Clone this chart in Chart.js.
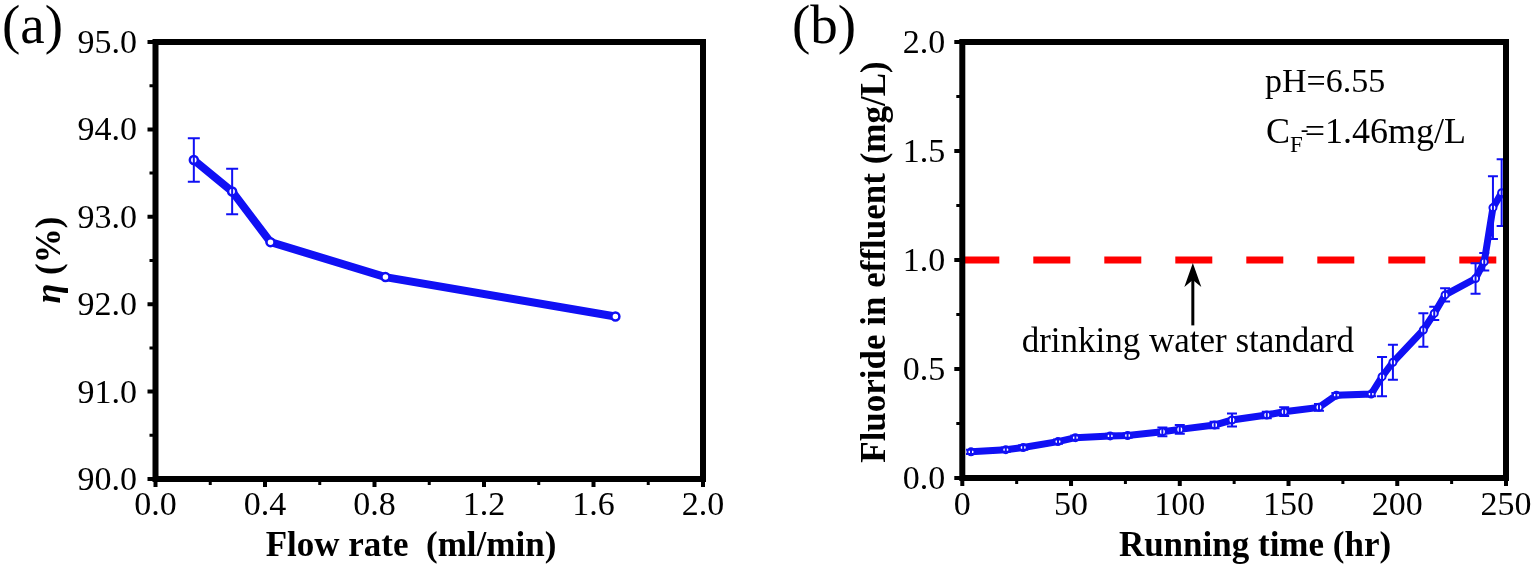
<!DOCTYPE html>
<html>
<head>
<meta charset="utf-8">
<script src="https://cdn.jsdelivr.net/npm/chart.js@4.4.1/dist/chart.umd.min.js"></script>
<style>
    body { margin: 0; background: #fff; }
    #wrap { position: relative; width: 1536px; height: 574px; }
    canvas { position: absolute; top: 0; }
    #flow-rate-chart { left: 0; }
    #running-time-chart { left: 768px; }
</style>
</head>
<body>
<div id="wrap">
    <canvas id="flow-rate-chart" width="768" height="574"></canvas>
    <canvas id="running-time-chart" width="768" height="574"></canvas>
</div>
<script>
const SERIF = "'Liberation Serif', 'Times New Roman', serif";
const BLUE = "#1010f4";
Chart.defaults.font.family = SERIF;
Chart.defaults.color = "#000";

// (a) removal efficiency vs flow rate
const flowRate = [0.14, 0.28, 0.42, 0.84, 1.68];
const removal = [93.65, 93.29, 92.71, 92.31, 91.86];
const removalErr = [0.25, 0.26, 0, 0, 0];
const flowTicks = [0.0, 0.4, 0.8, 1.2, 1.6, 2.0];
const flowMinor = [0.2, 0.6, 1.0, 1.4, 1.8];
const removalTicks = [90, 91, 92, 93, 94, 95];
const removalMinor = [90.5, 91.5, 92.5, 93.5, 94.5];

// (b) fluoride in effluent vs running time
const runTime = [4, 20, 28, 44, 52, 68, 76, 92, 100, 116, 124, 140, 148, 164, 172,
    188, 193, 198, 212, 217, 222, 236, 240, 244, 248];
const fluoride = [0.12, 0.13, 0.14, 0.167, 0.185, 0.193, 0.195, 0.212, 0.223, 0.243,
    0.266, 0.289, 0.304, 0.324, 0.38, 0.385, 0.465, 0.531, 0.679, 0.755,
    0.84, 0.915, 0.992, 1.24, 1.309];
const fluorideErr = [0.01, 0.01, 0.01, 0.01, 0.01, 0.01, 0.01, 0.02, 0.02, 0.015,
    0.03, 0.015, 0.02, 0.015, 0.01, 0.01, 0.09, 0.08, 0.077, 0.03,
    0.03, 0.07, 0.04, 0.144, 0.153];
const standardTime = [0, 247];
const standardLevel = [1.0, 1.0];
const timeTicks = [0, 50, 100, 150, 200, 250];
const timeMinor = [25, 75, 125, 175, 225];
const fluorideTicks = [0, 0.5, 1.0, 1.5, 2.0];
const fluorideMinor = [0.25, 0.75, 1.25, 1.75];

const toPoints = (xs, ys) => xs.map((x, i) => ({ x: x, y: ys[i] }));
const TICK_FONT = "34px " + SERIF;
const TITLE_FONT = "bold 35px " + SERIF;

// thick box round the plot, outward major/minor ticks and their labels
function framePlugin(xMajor, xMinor, xFmt, yMajor, yMinor, yFmt, yPad) {
    return {
        id: "frame",
        afterDraw(chart) {
            const { ctx, chartArea: a } = chart;
            const sx = chart.scales.x, sy = chart.scales.y;
            ctx.save();
            ctx.strokeStyle = "#000";
            ctx.lineWidth = 6;
            ctx.strokeRect(a.left, a.top, a.right - a.left, a.bottom - a.top);
            const xMarks = (vals, len, w) => {
                ctx.lineWidth = w;
                ctx.beginPath();
                vals.forEach(v => {
                    const px = sx.getPixelForValue(v);
                    ctx.moveTo(px, a.bottom);
                    ctx.lineTo(px, a.bottom + 3 + len);
                });
                ctx.stroke();
            };
            const yMarks = (vals, len, w) => {
                ctx.lineWidth = w;
                ctx.beginPath();
                vals.forEach(v => {
                    const py = sy.getPixelForValue(v);
                    ctx.moveTo(a.left, py);
                    ctx.lineTo(a.left - 3 - len, py);
                });
                ctx.stroke();
            };
            xMarks(xMajor, 5, 4);
            xMarks(xMinor, 3, 3);
            yMarks(yMajor, 5, 4);
            yMarks(yMinor, 3, 3);

            ctx.fillStyle = "#000";
            ctx.font = TICK_FONT;
            ctx.textBaseline = "alphabetic";
            ctx.textAlign = "center";
            xMajor.forEach(v => ctx.fillText(xFmt(v), sx.getPixelForValue(v), 515));
            ctx.textAlign = "right";
            yMajor.forEach(v => ctx.fillText(yFmt(v), a.left - yPad, sy.getPixelForValue(v) + 11));
            ctx.restore();
        }
    };
}

function errorBarPlugin(xs, ys, errs, cap) {
    return {
        id: "errorBars",
        afterDatasetsDraw(chart) {
            const { ctx } = chart;
            const sx = chart.scales.x, sy = chart.scales.y;
            ctx.save();
            ctx.strokeStyle = BLUE;
            ctx.lineWidth = 2;
            ctx.beginPath();
            xs.forEach((x, i) => {
                if (!errs[i]) return;
                const px = sx.getPixelForValue(x);
                const top = sy.getPixelForValue(ys[i] + errs[i]);
                const bot = sy.getPixelForValue(ys[i] - errs[i]);
                ctx.moveTo(px, top); ctx.lineTo(px, bot);
                ctx.moveTo(px - cap, top); ctx.lineTo(px + cap, top);
                ctx.moveTo(px - cap, bot); ctx.lineTo(px + cap, bot);
            });
            ctx.stroke();
            ctx.restore();
        }
    };
}

// text pieces drawn left to right, optionally rotated
function drawParts(ctx, parts, x, y, rotate) {
    ctx.save();
    ctx.translate(x, y);
    if (rotate) ctx.rotate(-Math.PI / 2);
    let total = 0;
    parts.forEach(p => { ctx.font = p[1]; total += ctx.measureText(p[0]).width; });
    let cx = -total / 2;
    ctx.textAlign = "left";
    ctx.textBaseline = "alphabetic";
    ctx.fillStyle = "#000";
    parts.forEach(p => {
        ctx.font = p[1];
        ctx.fillText(p[0], cx, 0);
        cx += ctx.measureText(p[0]).width;
    });
    ctx.restore();
}

function axes(xMin, xMax, xTicks, xHeight, yMin, yMax, yTicks, yWidth) {
    return {
        x: {
            type: "linear", min: xMin, max: xMax,
            afterBuildTicks: s => { s.ticks = xTicks.map(v => ({ value: v })); },
            afterFit: s => { s.height = xHeight; },
            grid: { display: false, drawTicks: false },
            border: { display: false },
            ticks: { display: false }
        },
        y: {
            type: "linear", min: yMin, max: yMax,
            afterBuildTicks: s => { s.ticks = yTicks.map(v => ({ value: v })); },
            afterFit: s => { s.width = yWidth; },
            grid: { display: false, drawTicks: false },
            border: { display: false },
            ticks: { display: false }
        }
    };
}

const oneDecimal = v => v.toFixed(1);

// (a) Flow rate chart
const flow_config = {
    type: "line",
    data: {
        datasets: [{
            data: toPoints(flowRate, removal),
            borderColor: BLUE,
            borderWidth: 8,
            backgroundColor: "#fff",
            pointBorderColor: BLUE,
            pointRadius: 4,
            pointBorderWidth: 2.5,
            tension: 0
        }]
    },
    options: {
        responsive: false,
        animation: false,
        layout: { padding: { left: 0, top: 42, right: 65, bottom: 0 } },
        plugins: { legend: { display: false }, tooltip: { enabled: false } },
        scales: axes(0, 2, flowTicks, 95, 90, 95, removalTicks, 155.5)
    },
    plugins: [
        errorBarPlugin(flowRate, removal, removalErr, 6),
        framePlugin(flowTicks, flowMinor, oneDecimal, removalTicks, removalMinor, oneDecimal, 18.5),
        {
            id: "labelsA",
            afterDraw(chart) {
                const ctx = chart.ctx;
                ctx.save();
                ctx.font = "55px " + SERIF;
                ctx.fillStyle = "#000";
                ctx.fillText("(a)", 2, 43);
                ctx.restore();
                drawParts(ctx, [["η", "italic bold 36px " + SERIF], [" (%)", TITLE_FONT]], 60, 260, true);
                drawParts(ctx, [["Flow rate  (ml/min)", TITLE_FONT]], 411, 556, false);
            }
        }
    ]
};

var flow_chart = new Chart(document.getElementById("flow-rate-chart"), flow_config);

// (b) Running time chart
const time_config = {
    type: "line",
    data: {
        datasets: [{
            data: toPoints(runTime, fluoride),
            borderColor: BLUE,
            borderWidth: 7,
            backgroundColor: "#fff",
            pointBorderColor: BLUE,
            pointRadius: 3.5,
            pointBorderWidth: 2,
            tension: 0
        },
        {
            data: toPoints(standardTime, standardLevel),
            borderColor: "#ff0000",
            borderWidth: 7,
            borderDash: [37, 34],
            pointRadius: 0
        }]
    },
    options: {
        responsive: false,
        animation: false,
        layout: { padding: { left: 0, top: 42, right: 30, bottom: 0 } },
        plugins: { legend: { display: false }, tooltip: { enabled: false } },
        scales: axes(0, 250, timeTicks, 96, 0, 2, fluorideTicks, 194.3)
    },
    plugins: [
        errorBarPlugin(runTime, fluoride, fluorideErr, 5),
        framePlugin(timeTicks, timeMinor, v => String(v), fluorideTicks, fluorideMinor, oneDecimal, 17),
        {
            id: "labelsB",
            afterDraw(chart) {
                const ctx = chart.ctx;
                const sx = chart.scales.x, sy = chart.scales.y;
                ctx.save();
                ctx.fillStyle = "#000";
                ctx.font = "55px " + SERIF;
                ctx.fillText("(b)", 24, 43);

                // pH and feed concentration
                ctx.font = "34px " + SERIF;
                ctx.fillText("pH=6.55", sx.getPixelForValue(139.2), sy.getPixelForValue(1.771));
                let x0 = sx.getPixelForValue(139.6), y0 = sy.getPixelForValue(1.537);
                ctx.font = "36px " + SERIF;
                ctx.fillText("C", x0, y0);
                x0 += ctx.measureText("C").width;
                ctx.font = "23px " + SERIF;
                ctx.fillText("F", x0, y0 + 9);
                const wF = ctx.measureText("F").width;
                ctx.fillText("-", x0 + wF - 2, y0 - 6);
                ctx.font = "36px " + SERIF;
                ctx.fillText("=1.46mg/L", x0 + wF + 2, y0);

                // arrow to the standard line
                const ax = sx.getPixelForValue(106);
                const tip = sy.getPixelForValue(1.0) + 3;
                const tail = sy.getPixelForValue(0.70);
                ctx.strokeStyle = "#000";
                ctx.lineWidth = 3;
                ctx.beginPath();
                ctx.moveTo(ax, tip + 12);
                ctx.lineTo(ax, tail);
                ctx.stroke();
                ctx.beginPath();
                ctx.moveTo(ax, tip);
                ctx.lineTo(ax + 8.5, tip + 24);
                ctx.lineTo(ax, tip + 17);
                ctx.lineTo(ax - 8.5, tip + 24);
                ctx.closePath();
                ctx.fill();

                ctx.font = "35px " + SERIF;
                ctx.textAlign = "center";
                ctx.fillText("drinking water standard", sx.getPixelForValue(103.7), sy.getPixelForValue(0.578));
                ctx.restore();

                drawParts(ctx, [["Fluoride in effluent (mg/L)", TITLE_FONT]], 117, 262, true);
                drawParts(ctx, [["Running time (hr)", TITLE_FONT]], 487, 556, false);
            }
        }
    ]
};

var time_chart = new Chart(document.getElementById("running-time-chart"), time_config);
</script>
</body>
</html>
